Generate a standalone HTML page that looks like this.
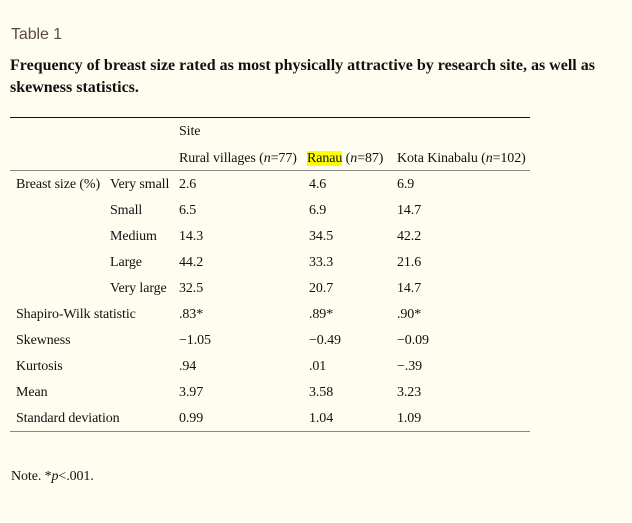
<!DOCTYPE html>
<html><head><meta charset="utf-8"><style>
html,body{margin:0;padding:0}
body{width:632px;height:521px;background:#fffdf0;position:relative;overflow:hidden;font-family:"Liberation Serif",serif;color:#111}
.a{position:absolute;white-space:nowrap;font-size:14px;line-height:16px;letter-spacing:-0.1px}
.h{position:absolute;left:10px;width:520px;height:1px;background:#888}
i{font-style:italic}
.t{position:absolute;left:0;top:2px;width:632px;height:521px}
</style></head><body>
<div class="a" style="left:11px;top:26px;font-family:'Liberation Sans',sans-serif;font-size:16px;line-height:18px;color:#5a4c44">Table 1</div>
<div class="a" style="left:10px;top:55px;font-size:16px;line-height:22px;font-weight:bold;white-space:normal;width:610px;letter-spacing:0">Frequency of breast size rated as most physically attractive by research site, as well as skewness statistics.</div>
<div class="h" style="top:117px;background:#111"></div>
<div class="h" style="top:170px"></div>
<div class="h" style="top:431px"></div>
<div class="t">
<div class="a" style="left:179px;top:122px">Site</div>
<div class="a" style="left:179px;top:149px">Rural villages (<i>n</i>=77)</div>
<div class="a" style="left:307px;top:149px"><span style="background:#ffff00">Ranau</span> (<i>n</i>=87)</div>
<div class="a" style="left:397px;top:149px">Kota Kinabalu (<i>n</i>=102)</div>
<div class="a" style="left:16px;top:175px">Breast size (%)</div>
<div class="a" style="left:110px;top:175px">Very small</div><div class="a" style="left:179px;top:175px">2.6</div><div class="a" style="left:309px;top:175px">4.6</div><div class="a" style="left:397px;top:175px">6.9</div>
<div class="a" style="left:110px;top:201px">Small</div><div class="a" style="left:179px;top:201px">6.5</div><div class="a" style="left:309px;top:201px">6.9</div><div class="a" style="left:397px;top:201px">14.7</div>
<div class="a" style="left:110px;top:227px">Medium</div><div class="a" style="left:179px;top:227px">14.3</div><div class="a" style="left:309px;top:227px">34.5</div><div class="a" style="left:397px;top:227px">42.2</div>
<div class="a" style="left:110px;top:253px">Large</div><div class="a" style="left:179px;top:253px">44.2</div><div class="a" style="left:309px;top:253px">33.3</div><div class="a" style="left:397px;top:253px">21.6</div>
<div class="a" style="left:110px;top:279px">Very large</div><div class="a" style="left:179px;top:279px">32.5</div><div class="a" style="left:309px;top:279px">20.7</div><div class="a" style="left:397px;top:279px">14.7</div>
<div class="a" style="left:16px;top:305px">Shapiro-Wilk statistic</div><div class="a" style="left:179px;top:305px">.83*</div><div class="a" style="left:309px;top:305px">.89*</div><div class="a" style="left:397px;top:305px">.90*</div>
<div class="a" style="left:16px;top:331px">Skewness</div><div class="a" style="left:179px;top:331px">−1.05</div><div class="a" style="left:309px;top:331px">−0.49</div><div class="a" style="left:397px;top:331px">−0.09</div>
<div class="a" style="left:16px;top:357px">Kurtosis</div><div class="a" style="left:179px;top:357px">.94</div><div class="a" style="left:309px;top:357px">.01</div><div class="a" style="left:397px;top:357px">−.39</div>
<div class="a" style="left:16px;top:383px">Mean</div><div class="a" style="left:179px;top:383px">3.97</div><div class="a" style="left:309px;top:383px">3.58</div><div class="a" style="left:397px;top:383px">3.23</div>
<div class="a" style="left:16px;top:409px">Standard deviation</div><div class="a" style="left:179px;top:409px">0.99</div><div class="a" style="left:309px;top:409px">1.04</div><div class="a" style="left:397px;top:409px">1.09</div>
<div class="a" style="left:11px;top:467px">Note. *<i>p</i>&lt;.001.</div>
</div>
</body></html>
